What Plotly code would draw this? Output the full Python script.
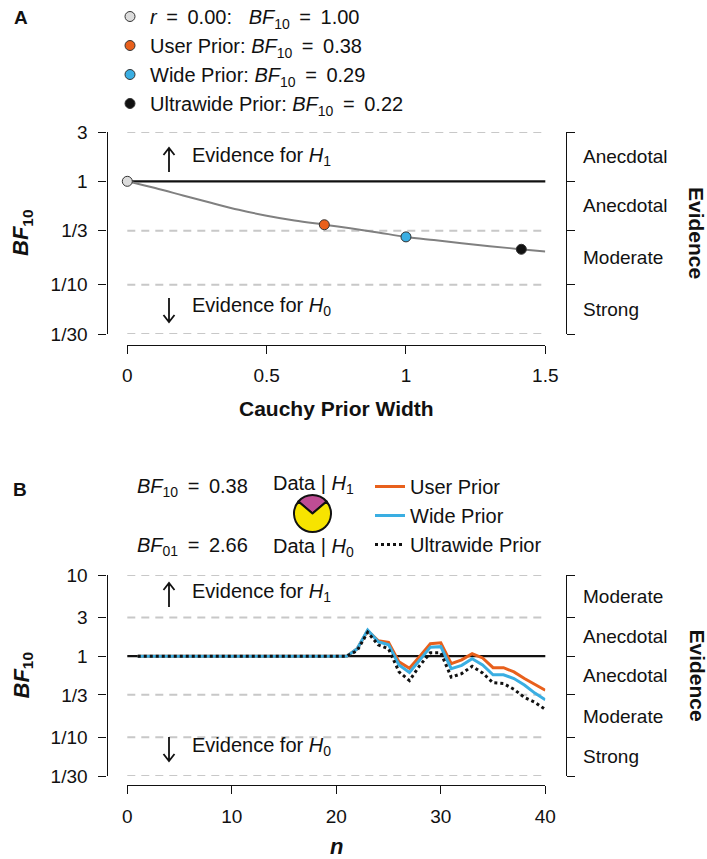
import math
import plotly.graph_objects as go

W, H = 707, 859


def px(x):
    return x / W


def py(y):
    return 1 - y / H


FONT = "Liberation Sans, Arial, sans-serif"
TXT = "#111111"
EQ = "\u00a0\u2009=\u2009\u00a0"

# ---------------- Panel A data ----------------
prior_width = [0.0, 0.1, 0.2, 0.3, 0.4, 0.5, 0.6, 0.7, 0.8, 0.9, 1.0, 1.1, 1.2, 1.3, 1.4, 1.5]
bf_curve = [1.00, 0.86, 0.73, 0.62, 0.53, 0.465, 0.418, 0.383, 0.352, 0.32, 0.29, 0.27, 0.252, 0.236, 0.222, 0.21]

point_names = [
    "<i>r</i>" + EQ + "0.00:\u00a0\u00a0 <i>BF</i><sub>10</sub>" + EQ + "1.00",
    "User Prior: <i>BF</i><sub>10</sub>" + EQ + "0.38",
    "Wide Prior: <i>BF</i><sub>10</sub>" + EQ + "0.29",
    "Ultrawide Prior: <i>BF</i><sub>10</sub>" + EQ + "0.22",
]
point_width = [0.0, 0.707, 1.0, 1.414]
point_bf = [1.00, 0.38, 0.29, 0.22]
point_colors = ["#dcdcdc", "#e8601c", "#3aaee2", "#111111"]

yticks_A = [3, 1, 1 / 3, 1 / 10, 1 / 30]
yticklabels_A = ["3", "1", "1/3", "1/10", "1/30"]
xticks_A = [0, 0.5, 1, 1.5]
xticklabels_A = ["0", "0.5", "1", "1.5"]
evidence_A = ["Anecdotal", "Anecdotal", "Moderate", "Strong"]

# ---------------- Panel B data ----------------
n_obs = list(range(1, 41))
bf_user = [1.0, 1.0, 1.0, 1.0, 1.0, 1.0, 1.0, 1.0, 1.0, 1.0,
           1.0, 1.0, 1.0, 1.0, 1.0, 1.0, 1.0, 1.0, 1.0, 1.0,
           1.0, 1.23, 2.06, 1.55, 1.48, 0.85, 0.71, 1.0, 1.42, 1.46,
           0.81, 0.90, 1.07, 0.95, 0.72, 0.72, 0.64, 0.53, 0.45, 0.38]
bf_wide = [1.0, 1.0, 1.0, 1.0, 1.0, 1.0, 1.0, 1.0, 1.0, 1.0,
           1.0, 1.0, 1.0, 1.0, 1.0, 1.0, 1.0, 1.0, 1.0, 1.0,
           1.0, 1.23, 2.10, 1.51, 1.38, 0.78, 0.63, 0.90, 1.29, 1.31,
           0.70, 0.77, 0.93, 0.78, 0.59, 0.59, 0.53, 0.44, 0.35, 0.29]
bf_ultrawide = [1.0, 1.0, 1.0, 1.0, 1.0, 1.0, 1.0, 1.0, 1.0, 1.0,
                1.0, 1.0, 1.0, 1.0, 1.0, 1.0, 1.0, 1.0, 1.0, 1.0,
                1.0, 1.17, 1.97, 1.38, 1.23, 0.64, 0.50, 0.77, 1.10, 1.10,
                0.55, 0.61, 0.75, 0.62, 0.47, 0.46, 0.39, 0.31, 0.27, 0.22]
series_names = ["User Prior", "Wide Prior", "Ultrawide Prior"]
series_colors = ["#e8601c", "#3aaee2", "#111111"]

bf10_user = 0.38
bf01_user = 2.66

yticks_B = [10, 3, 1, 1 / 3, 1 / 10, 1 / 30]
yticklabels_B = ["10", "3", "1", "1/3", "1/10", "1/30"]
xticks_B = [0, 10, 20, 30, 40]
xticklabels_B = ["0", "10", "20", "30", "40"]
evidence_B = ["Moderate", "Anecdotal", "Anecdotal", "Moderate", "Strong"]

# ---------------- figure ----------------
fig = go.Figure()

# Panel A curve
fig.add_trace(go.Scatter(x=prior_width, y=bf_curve, mode="lines", line=dict(color="#808080", width=2, shape="spline"),
                         xaxis="x", yaxis="y", showlegend=False, hoverinfo="skip", cliponaxis=False))
for name, w, b, c in zip(point_names, point_width, point_bf, point_colors):
    fig.add_trace(go.Scatter(x=[w], y=[b], mode="markers", name=name,
                             marker=dict(size=10, color=c, line=dict(color="#333333", width=1)),
                             xaxis="x", yaxis="y", legend="legend", legendgroup=name, cliponaxis=False))
fig.add_trace(go.Scatter(x=[None], y=[None], xaxis="x", yaxis="y2", showlegend=False, hoverinfo="skip"))

# Panel B lines
for vals, nm, col in zip([bf_user, bf_wide, bf_ultrawide], series_names, series_colors):
    fig.add_trace(go.Scatter(x=n_obs, y=vals, mode="lines", name=nm,
                             line=dict(color=col, width=3, dash="dot" if nm == "Ultrawide Prior" else "solid"),
                             xaxis="x2", yaxis="y3", legend="legend2", legendgroup=nm, cliponaxis=False))
fig.add_trace(go.Scatter(x=[None], y=[None], xaxis="x2", yaxis="y4", showlegend=False, hoverinfo="skip"))

# pie
fig.add_trace(go.Pie(values=[bf10_user, 1.0], sort=False, direction="clockwise",
                     rotation=-bf10_user / (1 + bf10_user) * 180,
                     marker=dict(colors=["#bf4d94", "#f7e400"], line=dict(color="#111111", width=2)),
                     textinfo="none", hoverinfo="skip", showlegend=False,
                     domain=dict(x=[px(294), px(331)], y=[py(532), py(495)])))

axis_common = dict(showline=True, linecolor="#111111", linewidth=1.3, ticks="outside", ticklen=8,
                   tickwidth=1.3, tickcolor="#111111", showgrid=False, zeroline=False,
                   tickfont=dict(size=19, color=TXT, family=FONT))

XDOM = [px(127.3), px(545.3)]
fig.update_layout(
    xaxis=dict(domain=XDOM, range=[0, 1.5], anchor="free", position=py(344.5), side="bottom",
               tickvals=xticks_A, ticktext=xticklabels_A, ticklabelstandoff=6, **axis_common),
    yaxis=dict(domain=[py(334), py(132)], type="log", range=[math.log10(1 / 30), math.log10(3)],
               anchor="free", position=px(106.5), side="left",
               tickvals=yticks_A, ticktext=yticklabels_A, ticklabelstandoff=7, **axis_common),
    yaxis2=dict(overlaying="y", type="log", range=[math.log10(1 / 30), math.log10(3)],
                anchor="free", position=px(566), side="right", tickvals=yticks_A,
                showticklabels=False, **axis_common),
    xaxis2=dict(domain=XDOM, range=[0, 40], anchor="free", position=py(785), side="bottom",
                tickvals=xticks_B, ticktext=xticklabels_B, ticklabelstandoff=6, **axis_common),
    yaxis3=dict(domain=[py(776), py(575)], type="log", range=[math.log10(1 / 30), 1],
                anchor="free", position=px(106.5), side="left",
                tickvals=yticks_B, ticktext=yticklabels_B, ticklabelstandoff=7, **axis_common),
    yaxis4=dict(overlaying="y3", type="log", range=[math.log10(1 / 30), 1],
                anchor="free", position=px(566), side="right", tickvals=yticks_B,
                showticklabels=False, **axis_common),
)

# reference lines
shapes = []
for yref, ticks in [("y", yticks_A), ("y3", yticks_B)]:
    xr = "x domain" if yref == "y" else "x2 domain"
    for v in ticks:
        if v == 1:
            shapes.append(dict(type="line", xref=xr, yref=yref, x0=0, x1=1, y0=v, y1=v,
                               line=dict(color="#111111", width=2.2), layer="below"))
        else:
            shapes.append(dict(type="line", xref=xr, yref=yref, x0=0, x1=1, y0=v, y1=v,
                               line=dict(color="#c8c8c8", width=2, dash="8px,6px"), layer="below"))

# evidence arrows (decoration drawn in paper coordinates)
for y0, y1 in [(148, 172), (298, 322), (583, 607), (737, 761)]:
    up = y0 == 148 or y0 == 583
    tip, tail = (y0, y1) if up else (y1, y0)
    d = 7 if up else -7
    path = "M %f %f L %f %f M %f %f L %f %f L %f %f" % (
        px(169), py(tail), px(169), py(tip),
        px(163.5), py(tip + d), px(169), py(tip), px(174.5), py(tip + d))
    shapes.append(dict(type="path", xref="paper", yref="paper", path=path,
                       line=dict(color="#111111", width=1.8)))

annotations = []


def ann(text, x, y, size=20, xanchor="center", yanchor="middle", yref="paper", textangle=0, **kw):
    annotations.append(dict(text=text, x=x, y=y, xref="paper", yref=yref, showarrow=False,
                            xanchor=xanchor, yanchor=yanchor, textangle=textangle,
                            font=dict(size=size, color=TXT, family=FONT), **kw))


ann("<b>A</b>", px(20.5), py(18), size=19)
ann("<b>B</b>", px(20), py(489), size=19)

for top, bot in [(132, 334), (575, 776)]:
    mid = (top + bot) / 2
    ann("<b><i>BF</i><sub>10</sub></b>", px(22), py(mid), size=22, textangle=-90)
    ann("<b>Evidence</b>", px(697), py(mid), size=21, textangle=90)

ann("<b>Cauchy Prior Width</b>", px(336), py(408), size=21)
ann("<b><i>n</i></b>", px(336), py(846), size=22)

for yc, sub in [(157, "1"), (306, "0"), (592, "1"), (746, "0")]:
    ann("Evidence for <i>H</i><sub>%s</sub>" % sub, px(190), py(yc), xanchor="left")

# evidence category labels
for ticks, labels, yref in [(yticks_A, evidence_A, "y"), (yticks_B, evidence_B, "y3")]:
    for i, lab in enumerate(labels):
        mid = math.sqrt(ticks[i] * ticks[i + 1])
        annotations.append(dict(text=lab, x=px(581), y=math.log10(mid), xref="paper", yref=yref,
                                showarrow=False, xanchor="left", yanchor="middle",
                                font=dict(size=19, color=TXT, family=FONT)))

# panel B header
ann("<i>BF</i><sub>10</sub>" + EQ + "%.2f" % bf10_user, px(135), py(487), xanchor="left")
ann("<i>BF</i><sub>01</sub>" + EQ + "%.2f" % bf01_user, px(135), py(546), xanchor="left")
ann("Data | <i>H</i><sub>1</sub>", px(313), py(484))
ann("Data | <i>H</i><sub>0</sub>", px(313), py(547))

fig.update_layout(
    width=W, height=H, margin=dict(l=0, r=0, t=0, b=0, autoexpand=False),
    paper_bgcolor="white", plot_bgcolor="white",
    font=dict(family=FONT, color=TXT, size=20),
    shapes=shapes, annotations=annotations,
    legend=dict(x=px(110), y=py(-3), xanchor="left", yanchor="top", bgcolor="rgba(0,0,0,0)",
                font=dict(size=20, color=TXT, family=FONT), tracegroupgap=10, traceorder="normal"),
    legend2=dict(x=px(370), y=py(467), xanchor="left", yanchor="top", bgcolor="rgba(0,0,0,0)",
                 font=dict(size=20, color=TXT, family=FONT), tracegroupgap=6, traceorder="normal"),
)

fig.write_html("out.html", config={"displayModeBar": False},
               post_script="document.body.style.margin='0';document.body.style.padding='0';")
